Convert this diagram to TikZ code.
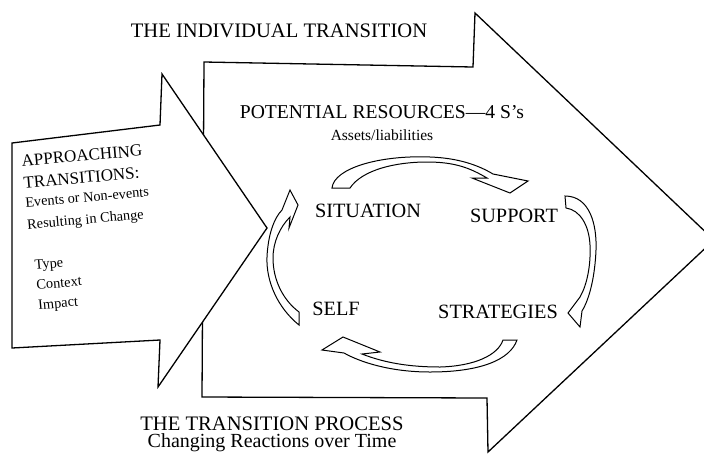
\documentclass[tikz,border=0pt]{standalone}
\usepackage{fontspec}
\setmainfont{Liberation Serif}
\tikzset{
    bigarrow/.style={draw, fill=white, line width=1.3pt, line join=miter},
    ringarrow/.style={draw, fill=white, line width=1pt, line join=miter},
    headtext/.style={inner sep=0pt, anchor=base, font=\fontsize{20.6}{24}\selectfont},
    ringtext/.style={inner sep=0pt, anchor=base, font=\fontsize{20.3}{24}\selectfont},
    sidetext/.style={inner sep=0pt, anchor=north west, rotate=5, align=left, font=\fontsize{17}{22}\selectfont},
}
\newcommand{\sidebig}{\fontsize{17}{22}\selectfont}
\newcommand{\sidesmall}{\fontsize{14.3}{22}\selectfont}
\begin{document}
\begin{tikzpicture}[x=1pt, y=-1pt]
        \clip (0,0) rectangle (704,459);

        \draw[bigarrow] (204,62) -- (473,67) -- (475,13) -- (714,240) -- (488,452) -- (487,398) -- (202,397) -- cycle;
        \draw[bigarrow] (12,143) -- (160,125) -- (162,74) -- (267,228) -- (158,387) -- (160,340) -- (12,348) -- cycle;

        \begin{scope}[every path/.append style={ringarrow}]
            \draw (332,188) .. controls (334,168) and (380,155) .. (430,157) .. controls (458,158) and (478,165) .. (493,174)
                -- (528,181) -- (510,193) -- (472,178) -- (487,178)
                .. controls (470,168) and (455,162) .. (427,162) .. controls (395,162) and (362,170) .. (350,188) -- cycle;
            \draw (565,196) .. controls (590,196) and (597,225) .. (596,250) .. controls (595,275) and (590,298) .. (582,311)
                -- (580,327) -- (568,313) -- (580,297)
                .. controls (587,285) and (591,265) .. (590,245) .. controls (589,225) and (580,210) .. (566,208) -- cycle;
            \draw (517,340) .. controls (510,360) and (480,372) .. (430,372) .. controls (390,372) and (360,362) .. (344,353)
                -- (322,350) -- (343,337) -- (380,352) -- (362,354)
                .. controls (385,363) and (410,367) .. (440,367) .. controls (475,366) and (498,355) .. (503,340) -- cycle;
            \draw (299,325) .. controls (278,308) and (266,282) .. (267,257) .. controls (268,235) and (274,218) .. (282,210)
                -- (290,190) -- (298,205) -- (289,228) -- (290,217)
                .. controls (280,227) and (273,242) .. (273,258) .. controls (273,280) and (283,300) .. (299,312) -- cycle;
        \end{scope}

        \node[headtext] (individual) at (279,37) {THE INDIVIDUAL TRANSITION};
        \node[headtext, font=\fontsize{19.6}{24}\selectfont] (resources) at (382,118) {POTENTIAL RESOURCES---4 S's};
        \node[headtext, font=\fontsize{15.5}{18}\selectfont] (assets) at (382,140) {Assets/liabilities};

        \node[sidetext] (approaching) at (21,155) {\sidebig APPROACHING\\
            \sidebig TRANSITIONS:\\[-3pt]
            \sidesmall Events or Non-events\\
            \sidesmall Resulting in Change\\[19pt]
            \sidesmall\hspace{4pt}Type\\[-2pt]
            \sidesmall\hspace{4pt}Context\\[-2pt]
            \sidesmall\hspace{4pt}Impact};

        \node[ringtext] (situation) at (368,217) {SITUATION};
        \node[ringtext] (support) at (514,222) {SUPPORT};
        \node[ringtext] (self) at (336,315) {SELF};
        \node[ringtext] (strategies) at (498,318) {STRATEGIES};

        \node[inner sep=0pt, anchor=north, align=center, font=\fontsize{20}{17}\selectfont] (process) at (272,417) {\fontsize{20.6}{17}\selectfont THE TRANSITION PROCESS\\
            \fontsize{20}{17}\selectfont Changing Reactions over Time};
    \end{tikzpicture}
\end{document}
